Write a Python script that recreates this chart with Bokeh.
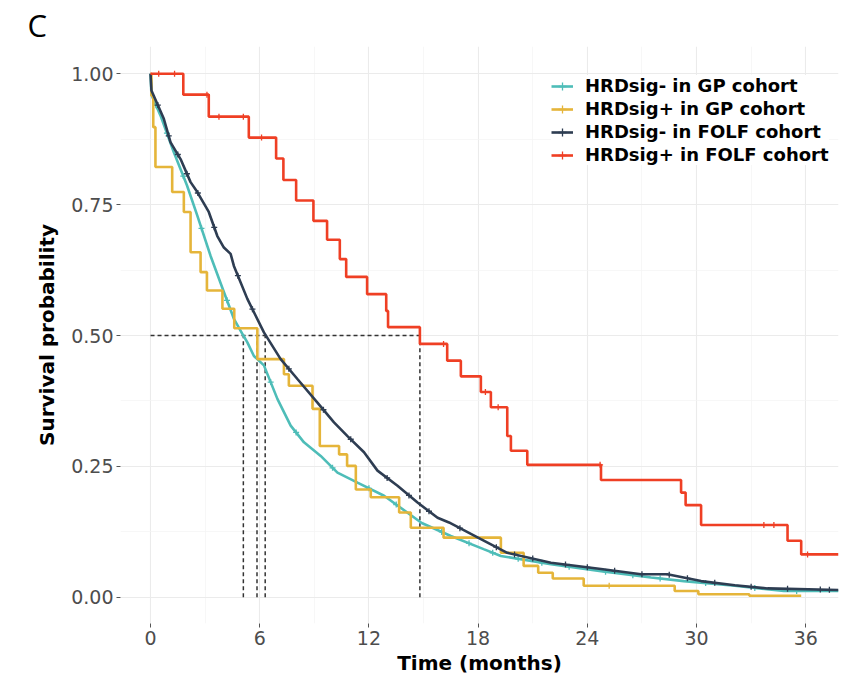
import numpy as np
from bokeh.plotting import figure
from bokeh.models import FixedTicker, Legend, LegendItem, Range1d, Title
from bokeh.embed import file_html
from bokeh.resources import INLINE

# ---------------- data ----------------
series_names = ["HRDsig- in GP cohort", "HRDsig+ in GP cohort",
                "HRDsig- in FOLF cohort", "HRDsig+ in FOLF cohort"]

# HRDsig- in GP cohort (large n, near-continuous curve)
gp_neg_t = [0, 0.05, 0.55, 1.28, 2.0, 2.57, 3.3, 4.03, 4.58, 5.1, 5.32, 5.68, 6.23, 6.97, 7.7,
            8.43, 9.35, 10.27, 11.37, 12.83, 14.9, 16.5, 18.3, 19.25, 22.0, 24.75, 27.5,
            29.3, 32.1, 34.8, 37.8]
gp_neg_s = [1.0, 0.96, 0.92, 0.85, 0.787, 0.729, 0.652, 0.583, 0.532, 0.50, 0.487, 0.461, 0.443,
            0.379, 0.328, 0.296, 0.270, 0.238, 0.219, 0.194, 0.142, 0.117, 0.092, 0.079, 0.063,
            0.050, 0.038, 0.031, 0.022, 0.012, 0.012]
gp_neg_cens = [0.3, 0.9, 1.8, 2.8, 4.2, 6.6, 8.0, 10.0, 12.0, 13.5, 16.0, 17.5, 18.8, 20.2,
               21.5, 23.0, 25.0, 26.5, 28.0, 30.5, 33.2, 35.5]

# HRDsig+ in GP cohort (step curve)
gp_pos_t = [0, 0.05, 0.15, 0.27, 1.19, 1.83, 2.2, 2.75, 3.1, 3.95, 4.6, 5.87, 7.33, 7.6, 8.9,
            9.3, 10.36, 10.8, 11.28, 12.1, 13.66, 14.3, 16.1, 19.25, 20.5, 21.3, 22.1, 23.8,
            28.8, 30.1, 32.9, 35.75]
gp_pos_s = [1.0, 0.958, 0.898, 0.822, 0.774, 0.736, 0.659, 0.621, 0.586, 0.551, 0.514, 0.455,
            0.426, 0.404, 0.36, 0.289, 0.273, 0.251, 0.206, 0.191, 0.162, 0.133, 0.114, 0.085,
            0.060, 0.047, 0.036, 0.022, 0.012, 0.006, 0.003, 0.003]
gp_pos_cens = [25.2]

# HRDsig- in FOLF cohort (large n, near-continuous curve)
folf_neg_t = [0, 0.05, 0.73, 1.1, 1.65, 2.2, 2.57, 3.2, 3.67, 4.03, 4.4, 4.58, 5.32, 6.23, 7.15,
              8.07, 9.17, 10.08, 10.82, 11.73, 12.47, 13.57, 14.67, 15.77, 16.4, 18.15, 19.6,
              22.0, 24.75, 26.95, 28.4, 30.25, 32.1, 33.9, 37.8]
folf_neg_s = [1.0, 0.968, 0.914, 0.869, 0.837, 0.793, 0.774, 0.736, 0.69, 0.668, 0.656, 0.633,
              0.570, 0.506, 0.455, 0.417, 0.372, 0.334, 0.308, 0.277, 0.242, 0.213, 0.181,
              0.152, 0.143, 0.111, 0.085, 0.066, 0.054, 0.044, 0.044, 0.031, 0.023, 0.017, 0.014]
folf_neg_cens = [0.4, 1.0, 1.5, 2.0, 2.6, 3.5, 4.8, 5.6, 7.6, 9.5, 11.0, 13.0, 14.2, 15.3,
                 17.0, 19.0, 20.0, 21.0, 22.8, 24.0, 25.5, 27.0, 28.5, 29.5, 31.0, 33.0,
                 35.0, 36.8, 37.3]

# HRDsig+ in FOLF cohort (step curve)
folf_pos_t = [0, 1.8, 3.2, 5.4, 6.9, 7.3, 8.0, 8.95, 9.7, 10.4, 10.75, 11.9, 12.95, 13.05,
              14.8, 16.3, 17.05, 18.15, 18.7, 19.6, 19.8, 20.7, 24.75, 29.15, 29.4, 30.25,
              35.0, 35.75, 37.8]
folf_pos_s = [1.0, 0.96, 0.918, 0.878, 0.838, 0.797, 0.758, 0.719, 0.683, 0.646, 0.612, 0.579,
              0.547, 0.516, 0.484, 0.452, 0.422, 0.392, 0.363, 0.308, 0.280, 0.253, 0.224,
              0.200, 0.176, 0.138, 0.108, 0.082, 0.082]
folf_pos_cens = [0.45, 1.32, 3.1, 3.76, 5.1, 6.1, 16.1, 18.4, 19.1, 24.7, 33.7, 34.25, 36.1]

# median survival times (dashed guides)
medians = [5.1, 5.85, 6.3, 14.8]

x_ticks = [0, 6, 12, 18, 24, 30, 36]
x_minor = [3, 9, 15, 21, 27, 33]
y_ticks = [0.0, 0.25, 0.5, 0.75, 1.0]
y_tick_labels = ["0.00", "0.25", "0.50", "0.75", "1.00"]
y_minor = [0.125, 0.375, 0.625, 0.875]

colors = ["#4EBDB8", "#E5B53A", "#2E3D52", "#EF3F24"]

# ---------------- figure ----------------
p = figure(width=841, height=679, output_backend="svg", toolbar_location=None,
           x_range=Range1d(-1.65, 37.8), y_range=Range1d(-0.05, 1.052),
           min_border_left=120, min_border_right=3, min_border_top=0, min_border_bottom=56)
p.outline_line_color = None
p.background_fill_color = "white"

title = Title(text="C", align="left", offset=-93, text_font="Open Sans",
              text_font_size="31px", text_font_style="normal", text_color="black",
              standoff=2)
p.add_layout(title, "above")

p.xaxis.ticker = FixedTicker(ticks=x_ticks, minor_ticks=x_minor)
p.yaxis.ticker = FixedTicker(ticks=y_ticks, minor_ticks=y_minor)
p.yaxis.major_label_overrides = {v: s for v, s in zip(y_ticks, y_tick_labels)}
p.xgrid.ticker = p.xaxis[0].ticker
p.ygrid.ticker = p.yaxis[0].ticker
for g in (p.xgrid, p.ygrid):
    g.grid_line_color = "#EBEBEB"
    g.grid_line_width = 1.1
    g.minor_grid_line_color = "#F4F4F4"
    g.minor_grid_line_width = 0.7

for ax in (p.xaxis, p.yaxis):
    ax.axis_line_color = None
    ax.major_tick_line_color = "#555555"
    ax.major_tick_out = 4
    ax.major_tick_in = 0
    ax.minor_tick_line_color = None
    ax.major_label_text_font = "DejaVu Sans"
    ax.major_label_text_font_size = "19px"
    ax.major_label_text_color = "#4D4D4D"
    ax.axis_label_text_font = "DejaVu Sans"
    ax.axis_label_text_font_size = "20px"
    ax.axis_label_text_font_style = "bold"
    ax.axis_label_text_color = "black"
    ax.major_label_standoff = 3

p.xaxis.axis_label = "Time (months)"
p.yaxis.axis_label = "Survival probability"
p.xaxis.axis_label_standoff = 3
p.yaxis.axis_label_standoff = 9

# median dashed guides
p.segment(x0=[0], y0=[0.5], x1=[max(medians)], y1=[0.5],
          line_color="#333333", line_width=1.5, line_dash="4 3")
p.segment(x0=medians, y0=[0] * len(medians), x1=medians, y1=[0.5] * len(medians),
          line_color="#333333", line_width=1.5, line_dash="4 3")

def step_val(t, s, c):
    t = np.asarray(t); s = np.asarray(s)
    idx = np.searchsorted(t, np.asarray(c), side="right") - 1
    return s[idx]

specs = [
    (gp_neg_t, gp_neg_s, gp_neg_cens, "line"),
    (gp_pos_t, gp_pos_s, gp_pos_cens, "step"),
    (folf_neg_t, folf_neg_s, folf_neg_cens, "line"),
    (folf_pos_t, folf_pos_s, folf_pos_cens, "step"),
]

items = []
for (t, s, cens, kind), col, name in zip(specs, colors, series_names):
    if kind == "line":
        r = p.line(t, s, line_color=col, line_width=2.6)
        cy = np.interp(cens, t, s)
    else:
        r = p.step(t, s, mode="after", line_color=col, line_width=2.6)
        cy = step_val(t, s, cens)
    m = p.scatter(cens, cy, marker="cross", size=6, line_color=col, line_width=1.3)
    items.append(LegendItem(label=name, renderers=[r, m]))

legend = Legend(items=items, location=(431, 458))
legend.label_text_font = "DejaVu Sans"
legend.label_text_font_style = "bold"
legend.label_text_font_size = "18px"
legend.label_text_color = "black"
legend.glyph_width = 22
legend.glyph_height = 20
legend.label_height = 20
legend.label_standoff = 12
legend.spacing = 2
legend.padding = 4
legend.margin = 0
legend.border_line_color = None
legend.background_fill_color = "white"
legend.background_fill_alpha = 1.0
p.add_layout(legend, "center")

open("out.html", "w").write(file_html(p, INLINE))
